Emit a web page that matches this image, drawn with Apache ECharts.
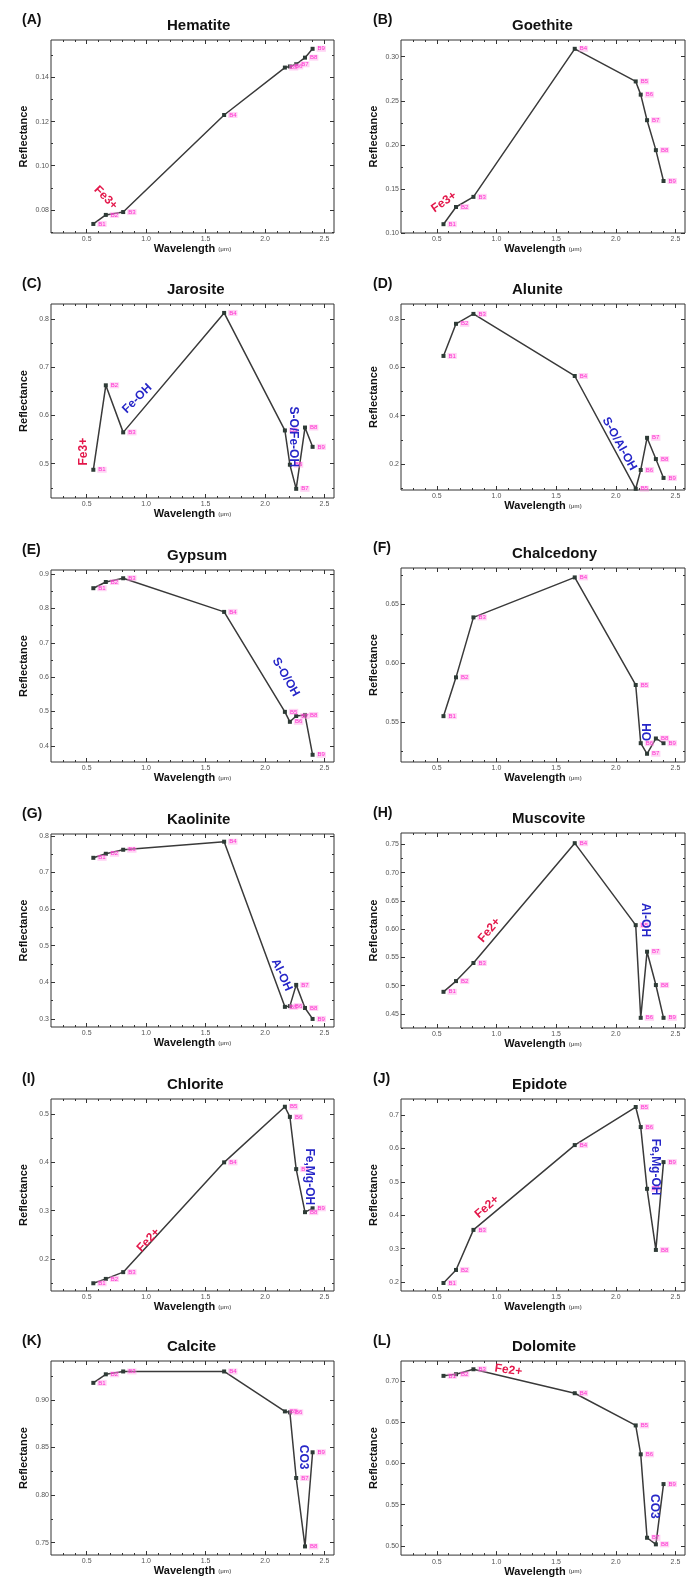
<!DOCTYPE html>
<html>
<head>
<meta charset="utf-8">
<script src="https://cdn.jsdelivr.net/npm/echarts@6/dist/echarts.min.js"></script>
<style>
html, body { margin: 0; padding: 0; background: #fff; }
#main { width: 686px; height: 1578px; }
</style>
</head>
<body>
<div id="main"></div>
<script>
var FONT = 'Liberation Sans, Arial, sans-serif';

// ASTER band centres (um) and their names
var bands = [0.556, 0.661, 0.807, 1.656, 2.167, 2.209, 2.262, 2.336, 2.400];
var bandNames = ['B1', 'B2', 'B3', 'B4', 'B5', 'B6', 'B7', 'B8', 'B9'];
var xTicks = [0.5, 1.0, 1.5, 2.0, 2.5];
var xMinorTicks = [0.3, 0.4, 0.6, 0.7, 0.8, 0.9, 1.1, 1.2, 1.3, 1.4, 1.6, 1.7, 1.8, 1.9, 2.1, 2.2, 2.3, 2.4];

// reflectance per mineral, one value per band
var hematite   = [0.0736, 0.0777, 0.079, 0.123, 0.1445, 0.145, 0.146, 0.149, 0.153];
var goethite   = [0.110, 0.1295, 0.141, 0.309, 0.272, 0.257, 0.228, 0.194, 0.159];
var jarosite   = [0.4875, 0.6625, 0.565, 0.8125, 0.569, 0.498, 0.448, 0.575, 0.535];
var alunite    = [0.647, 0.780, 0.821, 0.564, 0.097, 0.175, 0.308, 0.220, 0.142];
var gypsum     = [0.859, 0.877, 0.888, 0.790, 0.499, 0.470, 0.487, 0.490, 0.374];
var chalcedony = [0.555, 0.588, 0.639, 0.673, 0.5815, 0.532, 0.523, 0.536, 0.532];
var kaolinite  = [0.740, 0.751, 0.762, 0.784, 0.333, 0.335, 0.393, 0.330, 0.300];
var muscovite  = [0.489, 0.508, 0.540, 0.752, 0.607, 0.443, 0.560, 0.501, 0.443];
var chlorite   = [0.150, 0.159, 0.173, 0.400, 0.515, 0.494, 0.386, 0.297, 0.305];
var epidote    = [0.197, 0.236, 0.356, 0.610, 0.724, 0.664, 0.479, 0.296, 0.559];
var calcite    = [0.918, 0.927, 0.930, 0.930, 0.888, 0.887, 0.818, 0.746, 0.845];
var dolomite   = [0.706, 0.708, 0.714, 0.685, 0.646, 0.611, 0.510, 0.502, 0.575];

var minerals = ['Hematite', 'Goethite', 'Jarosite', 'Alunite', 'Gypsum', 'Chalcedony',
                'Kaolinite', 'Muscovite', 'Chlorite', 'Epidote', 'Calcite', 'Dolomite'];
var letters = ['(A)', '(B)', '(C)', '(D)', '(E)', '(F)', '(G)', '(H)', '(I)', '(J)', '(K)', '(L)'];
var reflectance = [hematite, goethite, jarosite, alunite, gypsum, chalcedony,
                   kaolinite, muscovite, chlorite, epidote, calcite, dolomite];

// y ranges and tick labels
var yMins = [0.0695, 0.100, 0.429, 0.092, 0.353, 0.516, 0.278, 0.425, 0.134, 0.173, 0.737, 0.489];
var yMaxs = [0.157, 0.319, 0.831, 0.862, 0.912, 0.681, 0.805, 0.770, 0.531, 0.748, 0.941, 0.724];
var yTicks = [
    [0.08, 0.10, 0.12, 0.14],
    [0.10, 0.15, 0.20, 0.25, 0.30],
    [0.5, 0.6, 0.7, 0.8],
    [0.2, 0.4, 0.6, 0.8],
    [0.4, 0.5, 0.6, 0.7, 0.8, 0.9],
    [0.55, 0.60, 0.65],
    [0.3, 0.4, 0.5, 0.6, 0.7, 0.8],
    [0.45, 0.50, 0.55, 0.60, 0.65, 0.70, 0.75],
    [0.2, 0.3, 0.4, 0.5],
    [0.2, 0.3, 0.4, 0.5, 0.6, 0.7],
    [0.75, 0.80, 0.85, 0.90],
    [0.50, 0.55, 0.60, 0.65, 0.70]
];
var yDigits = [2, 2, 1, 1, 1, 2, 1, 2, 1, 1, 2, 2];

// absorption feature annotations: [text, wavelength, reflectance, rotation, kind]
var notesA = [['Fe3+', 0.66, 0.0855, -45, 'fe']];
var notesB = [['Fe3+', 0.56, 0.135, 35, 'fe']];
var notesC = [['Fe3+', 0.475, 0.525, 90, 'fe'], ['Fe-OH', 0.925, 0.635, 45, 'oh'], ['S-O/Fe-OH', 2.24, 0.556, -90, 'oh']];
var notesD = [['S-O/Al-OH', 2.03, 0.283, -61, 'oh']];
var notesE = [['S-O/OH', 2.175, 0.60, -60, 'oh']];
var notesF = [['OH', 2.27, 0.5415, 90, 'oh']];
var notesG = [['Al-OH', 2.14, 0.42, -65, 'oh']];
var notesH = [['Fe2+', 0.94, 0.598, 50, 'fe'], ['Al-OH', 2.25, 0.616, -90, 'oh']];
var notesI = [['Fe2+', 1.02, 0.239, 47, 'fe'], ['Fe,Mg-OH', 2.375, 0.37, -90, 'oh']];
var notesJ = [['Fe2+', 0.92, 0.425, 41, 'fe'], ['Fe,Mg-OH', 2.33, 0.544, -90, 'oh']];
var notesK = [['CO3', 2.32, 0.84, -90, 'oh']];
var notesL = [['Fe2+', 1.10, 0.713, -8, 'fe'], ['CO3', 2.32, 0.548, -90, 'oh']];
var notes = [notesA, notesB, notesC, notesD, notesE, notesF, notesG, notesH, notesI, notesJ, notesK, notesL];

// layout
var colLeft = [51, 401];
var colWidth = [283, 284];
var gridTops = [40, 40, 304, 304, 570, 568, 834, 833, 1099, 1099, 1361, 1361];
var gridHeights = [193, 193, 194, 186, 192, 194, 193, 195, 192, 192, 194, 195];

var noteColor = {fe: '#e3174a', oh: '#2626c8'};

function yMinorValues(ticks, lo, hi) {
    var half = (ticks[1] - ticks[0]) / 2;
    var out = [];
    for (var v = ticks[0] - half; v <= hi + 1e-9; v += half) {
        var r = +v.toFixed(4);
        if (r >= lo && ticks.indexOf(r) < 0) {
            out.push(r);
        }
    }
    return out;
}

var grids = [], xAxes = [], yAxes = [], series = [], graphics = [];

reflectance.forEach(function (vals, i) {
    var col = i % 2;
    var top = gridTops[i];
    grids.push({
        left: colLeft[col], top: top, width: colWidth[col], height: gridHeights[i],
        show: true, borderColor: '#333', borderWidth: 1
    });

    function xAxis(pos, ticks, len, main) {
        return {
            type: 'value', gridIndex: i, position: pos, min: 0.2, max: 2.58,
            axisLine: {show: false}, splitLine: {show: false},
            axisTick: {show: true, inside: true, length: len, customValues: ticks, lineStyle: {color: '#333'}},
            axisLabel: {show: main, customValues: ticks, fontSize: 7, color: '#555', margin: 3, fontFamily: FONT,
                formatter: function (v) { return v.toFixed(1); }},
            name: main ? 'Wavelength {u|(\u03bcm)}' : '',
            nameLocation: 'middle', nameGap: 10,
            nameTextStyle: {fontSize: 11, fontWeight: 'bold', color: '#111', fontFamily: FONT,
                rich: {u: {fontSize: 6, color: '#777', fontFamily: FONT}}}
        };
    }
    xAxes.push(xAxis('bottom', xTicks, 4, true), xAxis('top', xTicks, 4, false),
               xAxis('bottom', xMinorTicks, 2, false), xAxis('top', xMinorTicks, 2, false));

    var minor = yMinorValues(yTicks[i], yMins[i], yMaxs[i]);
    function yAxis(pos, ticks, len, main) {
        return {
            type: 'value', gridIndex: i, position: pos, min: yMins[i], max: yMaxs[i],
            axisLine: {show: false}, splitLine: {show: false},
            axisTick: {show: true, inside: true, length: len, customValues: ticks, lineStyle: {color: '#333'}},
            axisLabel: {show: main, customValues: ticks, fontSize: 7, color: '#555', margin: 2, fontFamily: FONT,
                formatter: function (v) { return v.toFixed(yDigits[i]); }},
            name: main ? 'Reflectance' : '',
            nameLocation: 'middle', nameGap: 22,
            nameTextStyle: {fontSize: 11, fontWeight: 'bold', color: '#111', fontFamily: FONT}
        };
    }
    yAxes.push(yAxis('left', yTicks[i], 4, true), yAxis('right', yTicks[i], 4, false),
               yAxis('left', minor, 2, false), yAxis('right', minor, 2, false));

    series.push({
        type: 'line',
        xAxisIndex: i * 4, yAxisIndex: i * 4,
        data: bands.map(function (b, k) { return [b, vals[k]]; }),
        symbol: 'rect', symbolSize: 4,
        lineStyle: {color: '#3a3a3a', width: 1.5},
        itemStyle: {color: '#2e3b36'},
        label: {
            show: true, position: 'right', distance: 2,
            formatter: function (p) { return bandNames[p.dataIndex]; },
            fontSize: 6, color: '#ff2ccf', fontFamily: FONT,
            backgroundColor: 'rgba(255,160,230,0.45)', padding: [0, 1]
        },
        markPoint: {
            symbol: 'circle', symbolSize: 1,
            itemStyle: {color: 'rgba(0,0,0,0)'},
            data: notes[i].map(function (n) {
                return {
                    coord: [n[1], n[2]],
                    label: {show: true, position: 'inside', formatter: n[0], rotate: n[3],
                        color: noteColor[n[4]], fontSize: 12, fontWeight: 'bold', fontFamily: FONT}
                };
            })
        }
    });

    var lx = col === 0 ? 22 : 373;
    graphics.push({
        type: 'text', left: lx, top: top - 27,
        style: {text: letters[i], font: 'bold 14px ' + FONT, fill: '#111'}
    });
    graphics.push({
        type: 'text', left: col === 0 ? 167 : 512, top: top - 22,
        style: {text: minerals[i], font: 'bold 15px ' + FONT, fill: '#111'}
    });
});

var chart = echarts.init(document.getElementById('main'));
chart.setOption({
    animation: false,
    backgroundColor: '#fff',
    grid: grids,
    xAxis: xAxes,
    yAxis: yAxes,
    series: series,
    graphic: graphics
});
</script>
</body>
</html>
